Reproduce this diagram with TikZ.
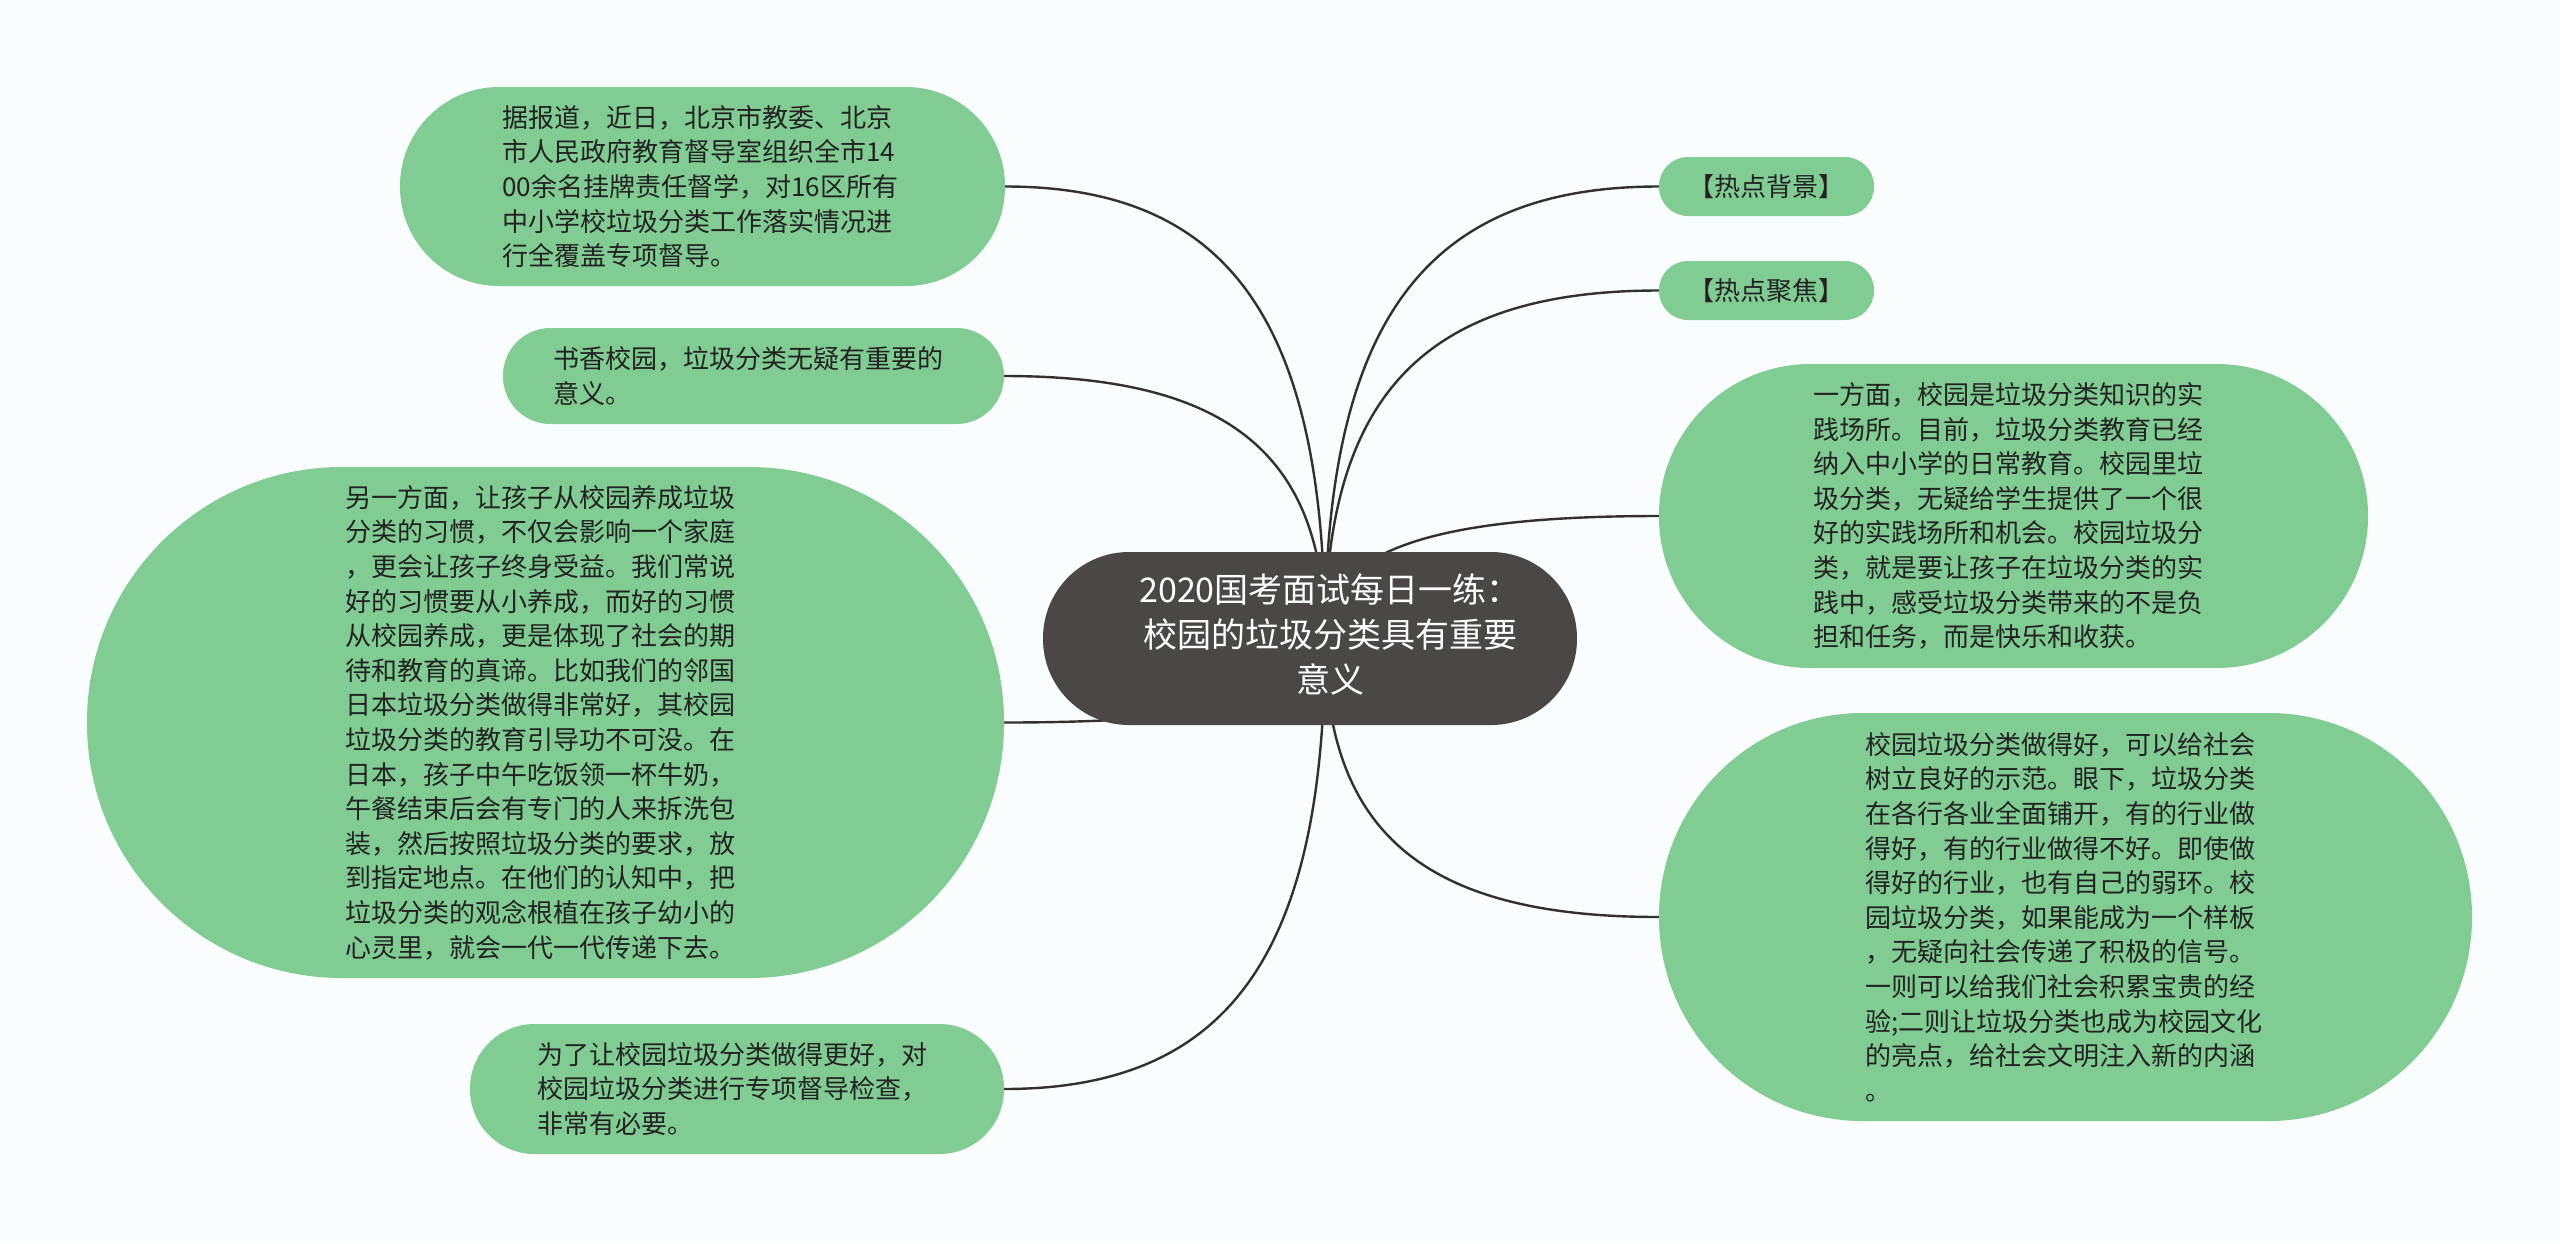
\documentclass[tikz,border=0pt]{standalone}
\usepackage{fontspec}
\setmainfont{Noto Sans CJK SC}
\usetikzlibrary{calc}
\definecolor{leafgreen}{RGB}{128,204,146}
\definecolor{rootgray}{RGB}{76,71,71}
\definecolor{linegray}{RGB}{51,48,48}
\definecolor{textdark}{RGB}{34,34,34}
\definecolor{bgwhite}{RGB}{250,253,253}
\pgfdeclarelayer{bglayer}
\pgfdeclarelayer{linelayer}
\pgfsetlayers{bglayer,linelayer,main}
\tikzset{
  leaf/.style={fill=leafgreen, text=textdark, inner sep=0pt,
    font=\fontsize{26pt}{34.6pt}\selectfont, align=left},
  hotleaf/.style={fill=leafgreen, text=textdark, inner sep=0pt,
    font=\fontsize{26pt}{34.6pt}\selectfont,
    minimum width=215pt, minimum height=59pt, rounded corners=29pt},
  rootbox/.style={fill=rootgray, text=white, inner sep=0pt,
    font=\fontsize{34pt}{45pt}\selectfont},
  conn/.style={draw=linegray, line width=2.4pt},
}
\begin{document}
\begin{tikzpicture}[x=1pt,y=-1pt]
\useasboundingbox (0,0) rectangle (2560,1243);
\begin{pgfonlayer}{bglayer}
\fill[bgwhite] (0,0) rectangle (2560,1243);
\end{pgfonlayer}

\node[rootbox, minimum width=534pt, minimum height=173pt, rounded corners=86pt] (root) at (1310,638.5)
  {\hspace*{40pt}\begin{tabular}{@{}c@{}}2020国考面试每日一练：\\校园的垃圾分类具有重要\\意义\end{tabular}};

\node[leaf, minimum width=605pt, minimum height=199pt, rounded corners=99pt, text width=400pt] (n1) at (702.5,186.5)
  {据报道，近日，北京市教委、北京\\市人民政府教育督导室组织全市14\\00余名挂牌责任督学，对16区所有\\中小学校垃圾分类工作落实情况进\\行全覆盖专项督导。};

\node[leaf, minimum width=501pt, minimum height=96pt, rounded corners=47.5pt, text width=400pt] (n2) at (753.5,376)
  {书香校园，垃圾分类无疑有重要的\\意义。};

\node[leaf, minimum width=917pt, minimum height=511pt, rounded corners=255pt, text width=400pt] (n3) at (545.5,722.5)
  {另一方面，让孩子从校园养成垃圾\\分类的习惯，不仅会影响一个家庭\\，更会让孩子终身受益。我们常说\\好的习惯要从小养成，而好的习惯\\从校园养成，更是体现了社会的期\\待和教育的真谛。比如我们的邻国\\日本垃圾分类做得非常好，其校园\\垃圾分类的教育引导功不可没。在\\日本，孩子中午吃饭领一杯牛奶，\\午餐结束后会有专门的人来拆洗包\\装，然后按照垃圾分类的要求，放\\到指定地点。在他们的认知中，把\\垃圾分类的观念根植在孩子幼小的\\心灵里，就会一代一代传递下去。};

\node[leaf, minimum width=534pt, minimum height=130pt, rounded corners=64.5pt, text width=400pt] (n4) at (737,1089)
  {为了让校园垃圾分类做得更好，对\\校园垃圾分类进行专项督导检查，\\非常有必要。};

\node[hotleaf] (h1) at (1766.5,186.5) {【热点背景】};
\node[hotleaf] (h2) at (1766.5,290.5) {【热点聚焦】};

\node[leaf, minimum width=709pt, minimum height=304pt, rounded corners=151.5pt, text width=400pt] (r1) at (2013.5,516)
  {一方面，校园是垃圾分类知识的实\\践场所。目前，垃圾分类教育已经\\纳入中小学的日常教育。校园里垃\\圾分类，无疑给学生提供了一个很\\好的实践场所和机会。校园垃圾分\\类，就是要让孩子在垃圾分类的实\\践中，感受垃圾分类带来的不是负\\担和任务，而是快乐和收获。};

\node[leaf, minimum width=813pt, minimum height=408pt, rounded corners=203.5pt, text width=400pt] (r2) at (2065.5,917)
  {校园垃圾分类做得好，可以给社会\\树立良好的示范。眼下，垃圾分类\\在各行各业全面铺开，有的行业做\\得好，有的行业做得不好。即使做\\得好的行业，也有自己的弱环。校\\园垃圾分类，如果能成为一个样板\\，无疑向社会传递了积极的信号。\\一则可以给我们社会积累宝贵的经\\验;二则让垃圾分类也成为校园文化\\的亮点，给社会文明注入新的内涵\\。};

\begin{pgfonlayer}{linelayer}
\coordinate (hub) at ([xshift=15pt]root.center);
\foreach \n in {n1,n2,n3,n4}
  \draw[conn] (hub) .. controls ($(hub)!0.7!(hub |- \n.east)$) and ($(\n.east)!0.7!(hub |- \n.east)$) .. (\n.east);
\foreach \n in {h1,h2,r1,r2}
  \draw[conn] (hub) .. controls ($(hub)!0.7!(hub |- \n.west)$) and ($(\n.west)!0.7!(hub |- \n.west)$) .. (\n.west);
\end{pgfonlayer}
\end{tikzpicture}
\end{document}
